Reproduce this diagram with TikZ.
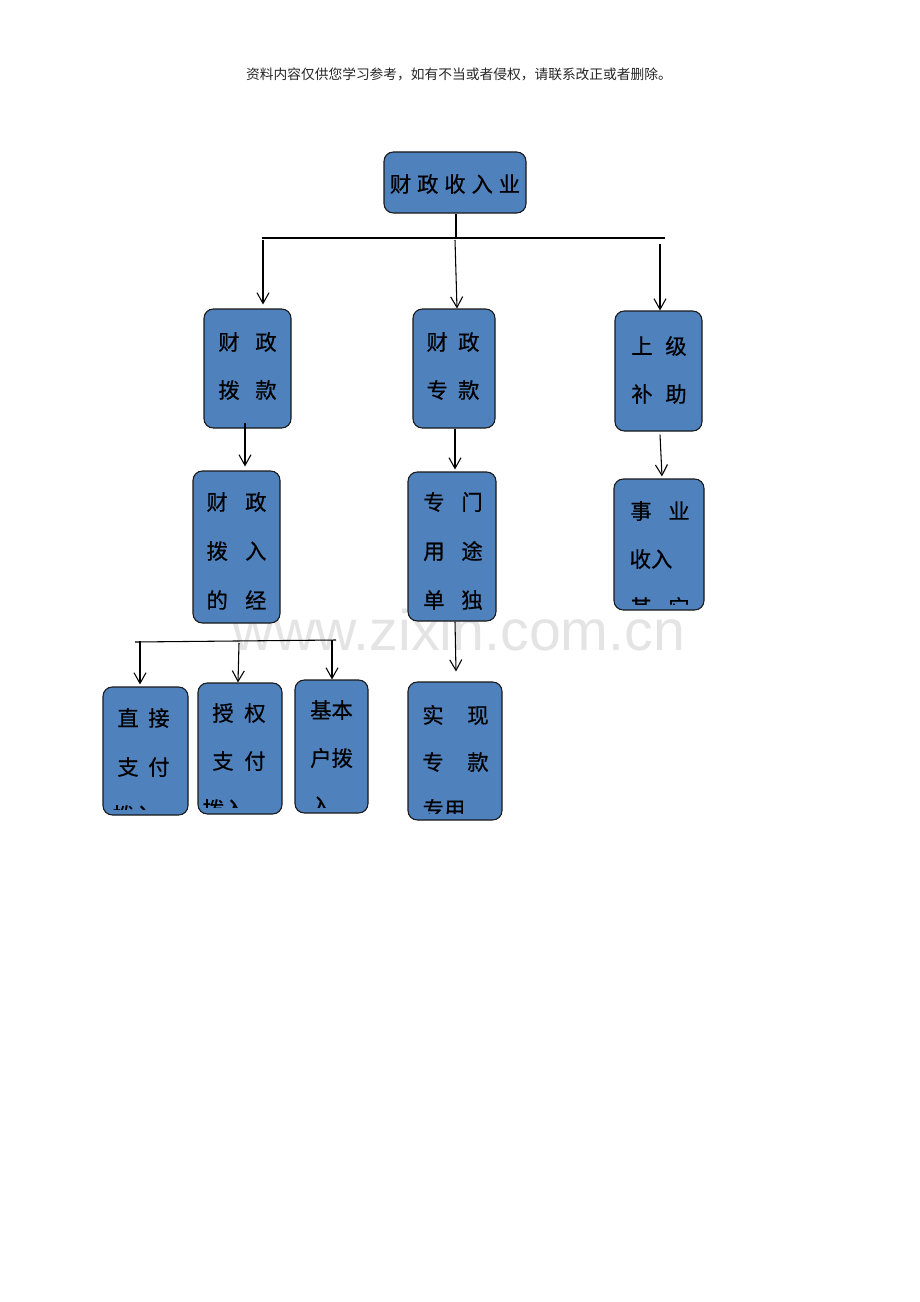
\documentclass[tikz,border=0pt]{standalone}
\usepackage{fontspec}
\setmainfont{Noto Sans CJK SC}
\newfontfamily\boxfont{Noto Sans CJK SC}[FakeBold=0.6]
\newfontfamily\markfont{Liberation Sans}
\usepackage{tikz}
\usetikzlibrary{arrows.meta,positioning}
\definecolor{BoxBlue}{RGB}{79,129,189}
\definecolor{BoxEdge}{RGB}{25,25,25}
\definecolor{MarkGray}{RGB}{228,228,228}

\tikzset{
  box/.style 2 args={rectangle,rounded corners=7pt,draw=BoxEdge,fill=BoxBlue,
    line width=0.8pt,inner sep=0pt,minimum width=#1*0.75pt,minimum height=#2*0.75pt},
  lbl/.style={inner sep=0pt,font=\boxfont\fontsize{16}{16}\selectfont},
  link/.style={line width=0.8pt},
  arr/.style={->,line width=0.8pt,>={Straight Barb[length=8pt,width=9pt]}},
}

\begin{document}
\begin{tikzpicture}[x=0.75pt,y=-0.75pt]
    \useasboundingbox (0,0) rectangle (920,1302);

    % note on top and watermark
    \node[inner sep=0pt,text=black!85,font=\fontsize{10.3}{10.3}\selectfont] (note) at (459,74)
        {资料内容仅供您学习参考，如有不当或者侵权，请联系改正或者删除。};
    \node[inner sep=0pt,anchor=base,text height=23pt,text depth=0pt,text=MarkGray,
        font=\markfont\fontsize{43}{43}\selectfont] (mark) at (459,650)
        {www.zixin.com.cn};

    % top box
    \node[box={142}{61}] (top) at (455,182.5) {};
    \node[lbl] (topt) at (455,184) {财\hspace{4.4pt}政\hspace{4.4pt}收\hspace{4.4pt}入\hspace{4.4pt}业};

    % first level
    \node[box={87}{119}] (grant) at (247.5,368.5) {};
    \node[lbl] (grant1) at (247.5,342) {财\hspace{11.7pt}政};
    \node[lbl] (grant2) at (247.5,390) {拨\hspace{11.7pt}款};

    \node[box={82}{119}] (special) at (454,368.5) {};
    \node[lbl] (special1) at (453,342) {财\hspace{7.6pt}政};
    \node[lbl] (special2) at (453,390) {专\hspace{7.6pt}款};

    \node[box={87}{120}] (subsidy) at (658.5,371) {};
    \node[lbl] (subsidy1) at (659,346) {上\hspace{9.5pt}级};
    \node[lbl] (subsidy2) at (659,394) {补\hspace{9.5pt}助};

    % second level
    \node[box={87}{152}] (funds) at (236.5,547) {};
    \node[lbl] (funds1) at (236.5,502) {财\hspace{12.9pt}政};
    \node[lbl] (funds2) at (236.5,551) {拨\hspace{12.9pt}入};
    \node[lbl] (funds3) at (236.5,600) {的\hspace{12.9pt}经};

    \node[box={88}{149}] (single) at (452,546.5) {};
    \node[lbl] (single1) at (453,502) {专\hspace{12.5pt}门};
    \node[lbl] (single2) at (453,551) {用\hspace{12.5pt}途};
    \node[lbl] (single3) at (453,600) {单\hspace{12.5pt}独};

    \node[box={90}{131}] (business) at (659,544.5) {};
    \node[lbl] (business1) at (660,511) {事\hspace{12.5pt}业};
    \node[lbl] (business2) at (651,559) {收入};
    \begin{scope}
        \clip (614,590) rectangle (704,604);
        \node[lbl] (business3) at (660,607) {其\hspace{12.5pt}它};
    \end{scope}

    % third level
    \node[box={85}{128}] (direct) at (145.5,751) {};
    \node[lbl] (direct1) at (143.5,718) {直\hspace{7.2pt}接};
    \node[lbl] (direct2) at (143.5,767) {支\hspace{7.2pt}付};
    \begin{scope}
        \clip (103,795) rectangle (188,809);
        \node[lbl] (direct3) at (134,815) {拨入};
    \end{scope}

    \node[box={84}{131}] (auth) at (240,748.5) {};
    \node[lbl] (auth1) at (239,713) {授\hspace{8pt}权};
    \node[lbl] (auth2) at (239,761) {支\hspace{8pt}付};
    \begin{scope}
        \clip (198,790) rectangle (282,807);
        \node[lbl] (auth3) at (224,809) {拨入};
    \end{scope}

    \node[box={73}{133}] (basic) at (331.5,746.5) {};
    \node[lbl] (basic1) at (331.5,710) {基本};
    \node[lbl] (basic2) at (331.5,758) {户拨};
    \begin{scope}
        \clip (295,790) rectangle (368,807);
        \node[lbl] (basic3) at (321,806) {入};
    \end{scope}

    \node[box={94}{138}] (apply) at (455,751) {};
    \node[lbl] (apply1) at (455.5,715) {实\hspace{17.7pt}现};
    \node[lbl] (apply2) at (455.5,762) {专\hspace{17.7pt}款};
    \begin{scope}
        \clip (408,790) rectangle (502,813);
        \node[lbl] (apply3) at (444,809) {专用};
    \end{scope}

    % bus under the top box
    \coordinate (busL) at (262,238);
    \coordinate (busR) at (665,238);
    \draw[link] ([shift={(1,0)}]top.south) -- ([shift={(1,0)}]top.south |- busL);
    \draw[link] (busL) -- (busR);
    \coordinate (dropA) at (263,240);
    \coordinate (dropB) at (455,240);
    \coordinate (dropC) at (660,244);
    \draw[arr] (dropA) -- ([shift={(0,-4)}]dropA |- grant.north);
    \draw[arr] (dropB) -- ([shift={(3,0)}]special.north);
    \draw[arr] (dropC) -- (dropC |- subsidy.north);

    % down the columns
    \draw[arr] ([shift={(-2.5,-6)}]grant.south) -- ([shift={(8.5,-4)}]funds.north);
    \draw[arr] ([shift={(1,0)}]special.south) -- ([shift={(3,-2)}]single.north);
    \draw[arr] ([shift={(1.5,3)}]subsidy.south) -- ([shift={(3,-2)}]business.north);
    \draw[arr] ([shift={(3,0)}]single.south) -- ([shift={(1,-10)}]apply.north);

    % bus over the third level
    \coordinate (subL) at (135,642);
    \coordinate (subR) at (336,640);
    \draw[link] (subL) -- (subR);
    \coordinate (dropD) at (140,641);
    \coordinate (dropE) at (239,643);
    \coordinate (dropF) at (332,640);
    \draw[arr] (dropD) -- ([shift={(0,-2)}]dropD |- direct.north);
    \draw[arr] (dropE) -- ([shift={(-2,0)}]auth.north);
    \draw[arr] (dropF) -- (dropF |- basic.north);
\end{tikzpicture}
\end{document}
